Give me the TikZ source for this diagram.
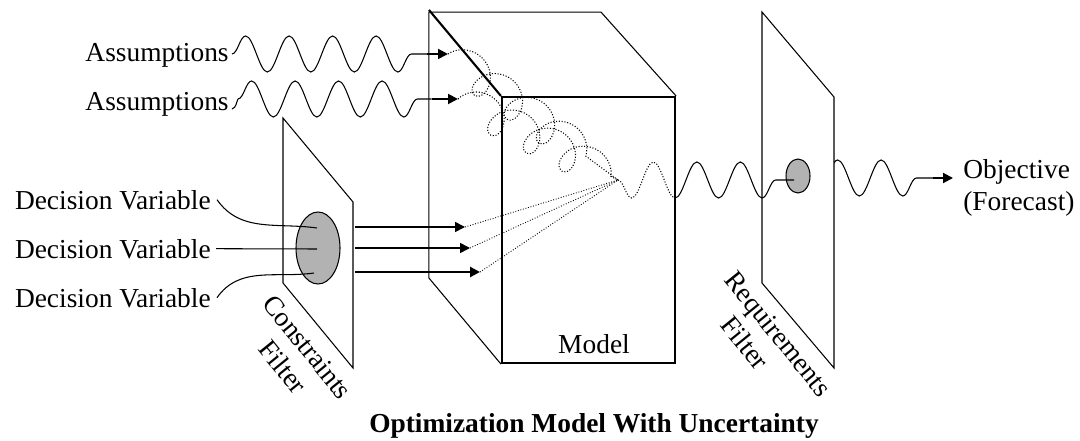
\documentclass[tikz,border=0pt]{standalone}
\usepackage{fontspec}
\setmainfont{Liberation Serif}
\usetikzlibrary{arrows.meta,positioning,shapes.geometric,decorations.pathmorphing}

\begin{document}
\begin{tikzpicture}[
    font=\fontsize{15.6}{18}\selectfont,
    thin line/.style={line width=0.6pt},
    face/.style={line width=1.2pt},
    blob/.style={draw,ellipse,fill=gray!60,line width=0.6pt,inner sep=0pt},
    lbl/.style={inner sep=0pt},
    feed/.style={-{Triangle[length=2mm,width=2mm]},line width=0.9pt},
    wave/.style={line width=0.6pt,decorate,
      decoration={snake,segment length=8.7mm,amplitude=3.6mm}},
    tangle/.style={densely dotted,line width=0.6pt,decorate,
      decoration={coil,aspect=0.9,segment length=8mm,amplitude=3.5mm}},
    ray/.style={densely dotted,line width=0.5pt}]
  \useasboundingbox (0,0) rectangle (21.6,8.8);

  % the two filter planes
  \draw[thin line] (5.66,6.44) -- (7.06,4.76) -- (7.06,1.44) -- (5.66,3.14) -- cycle;
  \draw[thin line] (15.24,8.56) -- (16.68,6.86) -- (16.68,1.44) -- (15.24,3.14) -- cycle;

  % model block: front face plus the visible back edges
  \node[draw,face,minimum width=3.46cm,minimum height=5.32cm,inner sep=0pt] (model) at (11.77,4.2) {};
  \draw[thin line] (model.south west) -- ++(-1.44,1.72) -- ++(0,5.32) -- ++(3.44,0) -- (model.north east);
  \draw[face] (model.north west) -- ++(-1.44,1.72);
  \node[lbl,anchor=base] at ([xshift=1.1mm,yshift=2.2mm]model.south) {Model};

  \node[blob,minimum width=8.8mm,minimum height=14.4mm] (cf) at (6.36,3.84) {};
  \node[blob,minimum width=4.8mm,minimum height=6.8mm] (rf) at (15.96,5.28) {};

  % decision variables into the constraints filter
  \node[lbl,anchor=base east] (dv1) at (4.22,4.62) {Decision Variable};
  \node[lbl,anchor=base east] (dv2) at (4.22,3.64) {Decision Variable};
  \node[lbl,anchor=base east] (dv3) at (4.22,2.66) {Decision Variable};
  \coordinate (d1) at (6.34,4.24);
  \coordinate (d2) at (6.34,3.82);
  \coordinate (d3) at (6.28,3.34);
  \draw[thin line] ([xshift=1.2mm]dv1.east) to[out=-55,in=172] (d1);
  \draw[thin line] ([xshift=1mm]dv2.east) -- (d2);
  \draw[thin line] ([xshift=1.2mm]dv3.east) to[out=55,in=188] (d3);

  \coordinate (focal) at (12.36,5.2);
  \foreach \i/\y/\tx/\w in {1/4.26/9.3/0.9pt, 2/3.84/9.4/0.9pt, 3/3.36/9.6/1.7pt} {
    \coordinate (s\i) at (7.1,\y);
    \coordinate (t\i) at (\tx,\y);
    \draw[feed,line width=\w] (s\i) -- (t\i);
    \draw[ray] (t\i) -- (focal);
  }

  % assumptions
  \node[lbl,anchor=base east] (as1) at (4.58,7.56) {Assumptions};
  \node[lbl,anchor=base east] (as2) at (4.58,6.58) {Assumptions};
  \coordinate (w1s) at (4.64,7.72);
  \coordinate (w1e) at (8.54,7.72);
  \coordinate (a1) at (8.96,7.72);
  \coordinate (w2s) at (4.76,6.82);
  \coordinate (w2e) at (8.63,6.82);
  \coordinate (a2) at (9.16,6.82);
  \draw[wave] (w1s) -- (w1e);
  \draw[thin line] ([xshift=0.6mm,yshift=0.4mm]as2.base east) to[out=20,in=245] (w2s);
  \draw[wave] (w2s) -- (w2e);
  \draw[feed,line width=1.1pt] (w1e) -- (a1);
  \draw[feed,line width=1.1pt] (w2e) -- (a2);
  \draw[tangle] (a1) -- (focal);
  \draw[tangle] (a2) -- (focal);

  % output signal, dotted while inside the model
  \coordinate (wend) at (15.88,5.2);
  \begin{scope}
    \clip (model.south west) rectangle (model.north east);
    \draw[wave,densely dotted,decoration={mirror}] (focal) -- (wend);
  \end{scope}
  \begin{scope}
    \clip (model.south east) rectangle (21.6,8.8);
    \draw[wave,decoration={mirror}] (focal) -- (wend);
  \end{scope}

  \coordinate (v1) at (16.48,5.24);
  \coordinate (v2) at (18.66,5.24);
  \coordinate (v3) at (19.06,5.24);
  \begin{scope}
    \clip (16.68,0) rectangle (21.6,8.8);
    \draw[wave] (v1) -- (v2);
  \end{scope}
  \draw[feed,line width=1.1pt] (v2) -- (v3);
  \node[lbl,anchor=west,align=left] (obj) at (19.26,5.04) {Objective\\(Forecast)};

  \node[lbl,rotate=-51,align=center] (cflab) at (5.9,1.66) {Constraints\\Filter};
  \node[lbl,rotate=-51,align=center] (rflab) at (15.32,1.92) {Requirements\\Filter\hspace*{5.6mm}};

  \node[lbl,anchor=base,font=\fontsize{15.6}{18}\selectfont\bfseries] (title) at (11.88,0.16)
    {Optimization Model With Uncertainty};
\end{tikzpicture}
\end{document}
